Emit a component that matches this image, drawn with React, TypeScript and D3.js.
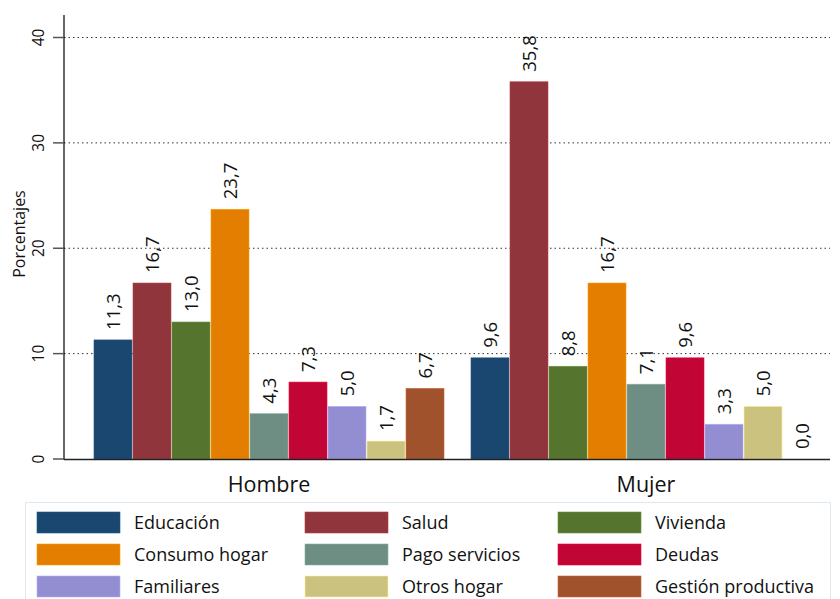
import React from "react";
import * as d3 from "d3";

const groups = ["Hombre", "Mujer"];
const categories = [
  "Educación",
  "Salud",
  "Vivienda",
  "Consumo hogar",
  "Pago servicios",
  "Deudas",
  "Familiares",
  "Otros hogar",
  "Gestión productiva",
];
const hombreValues = [11.3, 16.7, 13.0, 23.7, 4.3, 7.3, 5.0, 1.7, 6.7];
const mujerValues = [9.6, 35.8, 8.8, 16.7, 7.1, 9.6, 3.3, 5.0, 0.0];
const colors = [
  "#1a476f",
  "#90353b",
  "#55752f",
  "#e37e00",
  "#6e8e84",
  "#c10534",
  "#938dd2",
  "#cac27e",
  "#a0522d",
];
const yTicks = [0, 10, 20, 30, 40];

const W = 840;
const H = 599;
const FONT = "'Open Sans', 'Noto Sans', sans-serif";

export default function App() {
  const plotLeft = 64;
  const plotRight = 830;
  const y = d3.scaleLinear().domain([0, 40]).range([459, 37.5]);
  const gx = d3
    .scaleBand<string>()
    .domain(groups)
    .range([80.5, 834.5])
    .paddingInner(0.0716)
    .paddingOuter(0.0358);
  const ix = d3
    .scaleBand<string>()
    .domain(categories)
    .range([0, gx.bandwidth()])
    .paddingInner(0.026)
    .paddingOuter(0);
  const data = [hombreValues, mujerValues];
  const fmt = (v: number) => v.toFixed(1).replace(".", ",");
  const valFont = 18.5;

  const legendCols = [37, 305, 558];
  const legendRows = [512, 544, 576];

  return (
    <svg
      width={W}
      height={H}
      style={{ position: "absolute", left: 0, top: 0, background: "#fff" }}
      fontFamily={FONT}
    >
      <rect x={0} y={0} width={W} height={H} fill="#fff" />
      {/* grid */}
      {yTicks
        .filter((t) => t > 0)
        .map((t) => (
          <line
            key={"g" + t}
            x1={plotLeft}
            x2={plotRight}
            y1={y(t)}
            y2={y(t)}
            stroke="#333"
            strokeWidth={1}
            strokeDasharray="1.5,3"
          />
        ))}
      {/* bars */}
      {groups.map((g, gi) =>
        categories.map((c, ci) => {
          const v = data[gi][ci];
          const x0 = (gx(g) as number) + (ix(c) as number);
          const bw = ix.bandwidth();
          return (
            <g key={g + c}>
              {v > 0 && (
                <rect
                  x={x0}
                  y={y(v)}
                  width={bw}
                  height={y(0) - y(v)}
                  fill={colors[ci]}
                  stroke={d3.color(colors[ci])!.brighter(0.6).toString()}
                  strokeWidth={0.6}
                />
              )}
              <text
                transform={`translate(${x0 + bw / 2 + 0.36 * valFont},${y(v) - 10}) rotate(-90)`}
                fontSize={valFont}
                fill="#111"
                textAnchor="start"
              >
                {fmt(v)}
              </text>
            </g>
          );
        })
      )}
      {/* y axis */}
      <line x1={plotLeft} x2={plotLeft} y1={15} y2={460} stroke="#000" strokeWidth={1.2} />
      <line x1={plotLeft} x2={plotRight} y1={459.5} y2={459.5} stroke="#222" strokeWidth={1.4} />
      {yTicks.map((t) => (
        <g key={"t" + t}>
          <line x1={plotLeft - 11} x2={plotLeft} y1={y(t)} y2={y(t)} stroke="#555" strokeWidth={1.5} />
          <text
            transform={`translate(${plotLeft - 20},${y(t)}) rotate(-90)`}
            textAnchor="middle"
            fontSize={15.5}
            fill="#111"
          >
            {t}
          </text>
        </g>
      ))}
      <text
        transform={`translate(24.5,234) rotate(-90)`}
        textAnchor="middle"
        fontSize={16}
        fill="#111"
      >
        Porcentajes
      </text>
      {/* group labels */}
      {groups.map((g) => (
        <text
          key={"gl" + g}
          x={(gx(g) as number) + gx.bandwidth() / 2}
          y={492}
          textAnchor="middle"
          fontSize={21.5}
          fill="#111"
        >
          {g}
        </text>
      ))}
      {/* legend */}
      <rect x={25.5} y={502.5} width={805} height={110} fill="#fff" stroke="#dde8ee" strokeWidth={1} />
      {categories.map((c, i) => {
        const col = i % 3;
        const row = Math.floor(i / 3);
        const lx = legendCols[col];
        const ly = legendRows[row];
        return (
          <g key={"l" + c}>
            <rect
              x={lx}
              y={ly}
              width={83}
              height={21}
              fill={colors[i]}
              stroke={d3.color(colors[i])!.brighter(0.6).toString()}
              strokeWidth={0.6}
            />
            <text x={lx + 97} y={ly + 16.5} fontSize={18} fill="#111">
              {c}
            </text>
          </g>
        );
      })}
    </svg>
  );
}
